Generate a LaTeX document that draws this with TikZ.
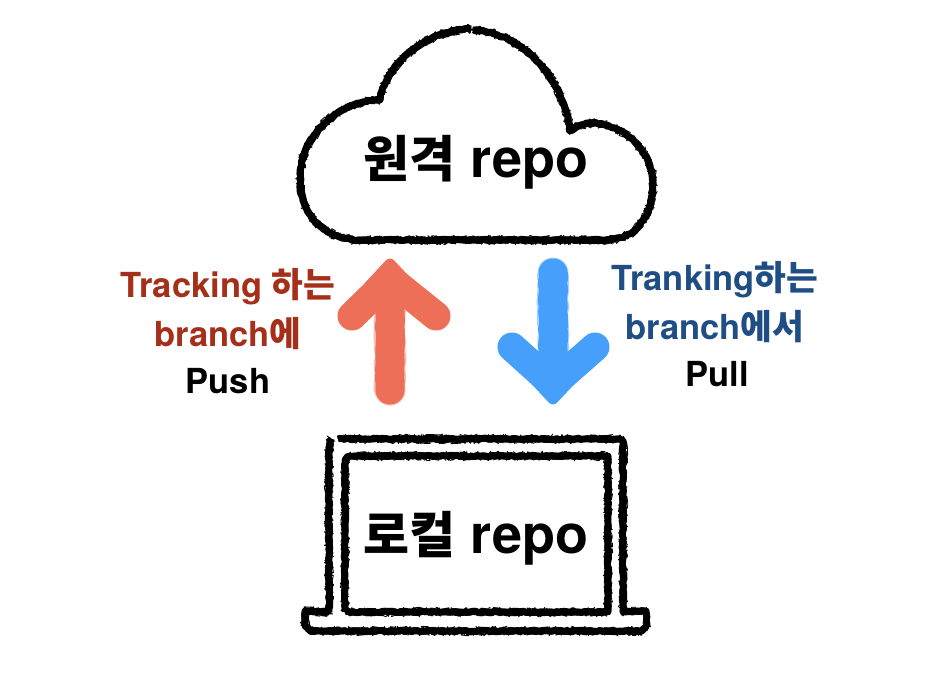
\documentclass[tikz,border=0pt]{standalone}
\usepackage{fontspec}
\setmainfont{TeX Gyre Heros}
\newfontfamily\kr{Noto Sans CJK KR Bold}
\usetikzlibrary{decorations.pathmorphing}
\definecolor{redtxt}{HTML}{A62F1A}
\definecolor{bluetxt}{HTML}{1F4E85}
\definecolor{redarrow}{HTML}{EE6F58}
\definecolor{bluearrow}{HTML}{459FFB}
\tikzset{
  chalkcore/.style={draw=black,line width=6.6,line join=round,line cap=butt,decorate,decoration={random steps,segment length=3,amplitude=0.9}},
  chalkfuzz/.style={draw=black,line width=0.8,line join=round,decorate,decoration={random steps,segment length=1.2,amplitude=4.8}},
  paintcore/.style={line width=29,line cap=round,line join=round,decorate,decoration={random steps,segment length=4,amplitude=0.8}},
  paintfuzz/.style={line width=31,line cap=round,line join=round,opacity=.45,decorate,decoration={random steps,segment length=3,amplitude=1}},
  big/.style={font=\fontsize{54}{60}\selectfont\bfseries,text=black,inner sep=0},
  lab/.style={font=\fontsize{34.5}{47}\selectfont\bfseries,align=center,inner sep=0},
}
\newcommand{\chalk}[1]{%
  \path[chalkcore] #1;
  \path[chalkcore] #1;
  \path[chalkfuzz] #1;
  \path[chalkfuzz] #1;
}
\newcommand{\paintshaft}[2]{%
  \path[paintfuzz,draw=#1] #2;
  \path[paintcore,draw=#1] #2;
}
\newcommand{\painthead}[2]{%
  \draw[#1,line width=29,line cap=round,line join=round] #2;
}
\begin{document}
\begin{tikzpicture}[x=1pt,y=-1pt]
\useasboundingbox (0,0) rectangle (948,694);
\fill[white] (0,0) rectangle (948,694);
% cloud
\chalk{(473,30) .. controls (520,32) and (563,75) .. (570,131) .. controls (600,108) and (652,140) .. (653,183) .. controls (653,217) and (635,240) .. (605,240) -- (360,240) .. controls (325,240) and (300,215) .. (300,180) .. controls (300,130) and (345,100) .. (380,100) .. controls (385,65) and (425,30) .. (471,29)}
% laptop
\chalk{(329,612) -- (329,447) -- (331,439)}
\chalk{(338,439) -- (617,439) .. controls (621,439) and (623,441) .. (623,445) -- (623,612) -- (646,611) -- (647,624) -- (642,631) -- (310,631) -- (305,625) -- (305,611) -- (329,612)}
\chalk{(345,612) -- (345,460) -- (349,456) -- (608,456) -- (608,612) -- (345,612)}
% arrows
\coordinate (redtip) at (390,279);
\coordinate (redtail) at (390,390);
\coordinate (redleft) at (352,316);
\coordinate (redright) at (436,316);
\coordinate (bluetip) at (553,384);
\coordinate (bluetail) at (553,273);
\coordinate (blueleft) at (512,347);
\coordinate (blueright) at (595,347);
\paintshaft{redarrow}{(redtail) -- (redtip)}
\painthead{redarrow}{(redleft) -- (redtip) -- (redright)}
\fill[redarrow,rounded corners=6] (390,256) -- (362,286) -- (418,286) -- cycle;
\paintshaft{bluearrow}{(bluetail) -- (bluetip)}
\painthead{bluearrow}{(blueleft) -- (bluetip) -- (blueright)}
\fill[bluearrow,rounded corners=6] (553,407) -- (525,377) -- (581,377) -- cycle;
% text
\node[big] (cloudtext) at (476,162) {{\kr\fontsize{50}{60}\selectfont 원격} repo};
\node[big] (laptoptext) at (476,538) {{\kr\fontsize{50}{60}\selectfont 로컬} repo};
\node[lab,text=redtxt] (pushA) at (228,287) {Tracking {\kr 하는}};
\node[lab,text=redtxt] (pushB) at (228,334) {branch{\kr 에}};
\node[lab,text=black] (pushC) at (228,381) {Push};
\node[lab,text=bluetxt] (pullA) at (715,280) {Tranking{\kr 하는}};
\node[lab,text=bluetxt] (pullB) at (715,327) {branch{\kr 에서}};
\node[lab,text=black] (pullC) at (717,374) {Pull};
\end{tikzpicture}
\end{document}
